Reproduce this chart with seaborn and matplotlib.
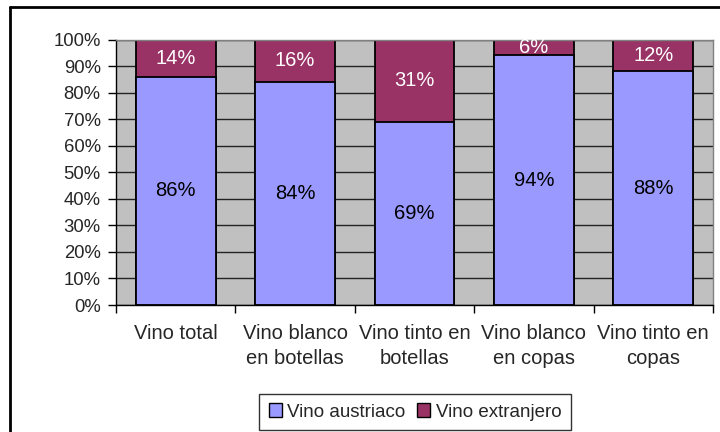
import seaborn as sns
import matplotlib.pyplot as plt
import pandas as pd
from matplotlib.lines import Line2D
from matplotlib.patches import Patch

# Data
categories = ["Vino total", "Vino blanco\nen botellas", "Vino tinto en\nbotellas",
              "Vino blanco\nen copas", "Vino tinto en\ncopas"]
austriaco = [86, 84, 69, 94, 88]
extranjero = [14, 16, 31, 6, 12]
yticks = list(range(0, 101, 10))

blue = "#9999FF"
purple = "#993366"

df = pd.DataFrame({"cat": categories, "aus": austriaco, "ext": extranjero})
df["total"] = df["aus"] + df["ext"]

sns.set_style("white")
plt.rcParams["font.family"] = ["Liberation Sans", "DejaVu Sans"]

fig = plt.figure(figsize=(7.2, 4.32), dpi=100)
ax = fig.add_axes([116 / 720, 1 - 305 / 432, (713 - 116) / 720, (305 - 39.5) / 432])
ax.set_facecolor("#C0C0C0")

# purple = full stack, blue drawn over it
sns.barplot(data=df, x="cat", y="total", order=categories, color=purple,
            saturation=1, width=0.67, edgecolor="black", linewidth=1.3, ax=ax)
sns.barplot(data=df, x="cat", y="aus", order=categories, color=blue,
            saturation=1, width=0.67, edgecolor="black", linewidth=1.3, ax=ax)

for i, (a, e) in enumerate(zip(austriaco, extranjero)):
    ax.text(i, a / 2, f"{a}%", ha="center", va="center", fontsize=14.5, color="black")
    ax.text(i, a + e / 2, f"{e}%", ha="center", va="center", fontsize=14.5, color="white")

ax.set_ylim(0, 100)
ax.set_xlim(-0.5, len(categories) - 0.5)
ax.set_yticks(yticks)
ax.set_yticklabels([f"{t}%" for t in yticks])
ax.set_axisbelow(True)
ax.yaxis.grid(True, color="#222222", linewidth=1)
ax.xaxis.grid(False)

# category ticks between bars, labels centered
ax.set_xticks([i - 0.5 for i in range(len(categories) + 1)], minor=True)
ax.tick_params(axis="x", which="minor", length=6, width=1, color="black", direction="out", bottom=True)
ax.tick_params(axis="x", which="major", length=0, pad=14, labelsize=14.5)
ax.tick_params(axis="y", length=6, width=1, color="black", direction="out", left=True, pad=5, labelsize=13.3)
for lab in ax.get_xticklabels():
    lab.set_linespacing(1.4)
ax.set_xlabel("")
ax.set_ylabel("")

for side in ["top", "right"]:
    ax.spines[side].set_color("#808080")
    ax.spines[side].set_linewidth(1)
for side in ["left", "bottom"]:
    ax.spines[side].set_color("black")
    ax.spines[side].set_linewidth(1)

handles = [Patch(facecolor=blue, edgecolor="black", label="Vino austriaco"),
           Patch(facecolor=purple, edgecolor="black", label="Vino extranjero")]
leg = fig.legend(handles=handles, loc="center", bbox_to_anchor=(415 / 720, 1 - 412 / 432),
                 ncol=2, fontsize=13.5, frameon=True, fancybox=False, handlelength=0.7,
                 handleheight=0.7, handletextpad=0.3, columnspacing=0.6, borderpad=0.5)
leg.get_frame().set_edgecolor("black")
leg.get_frame().set_linewidth(1)

# outer chart border (left and top visible)
fig.add_artist(Line2D([10 / 720, 10 / 720], [0, 1 - 7 / 432], transform=fig.transFigure,
                      color="black", linewidth=2))
fig.add_artist(Line2D([10 / 720, 1], [1 - 7 / 432, 1 - 7 / 432], transform=fig.transFigure,
                      color="black", linewidth=2))

fig.savefig("out.png", dpi=100)
